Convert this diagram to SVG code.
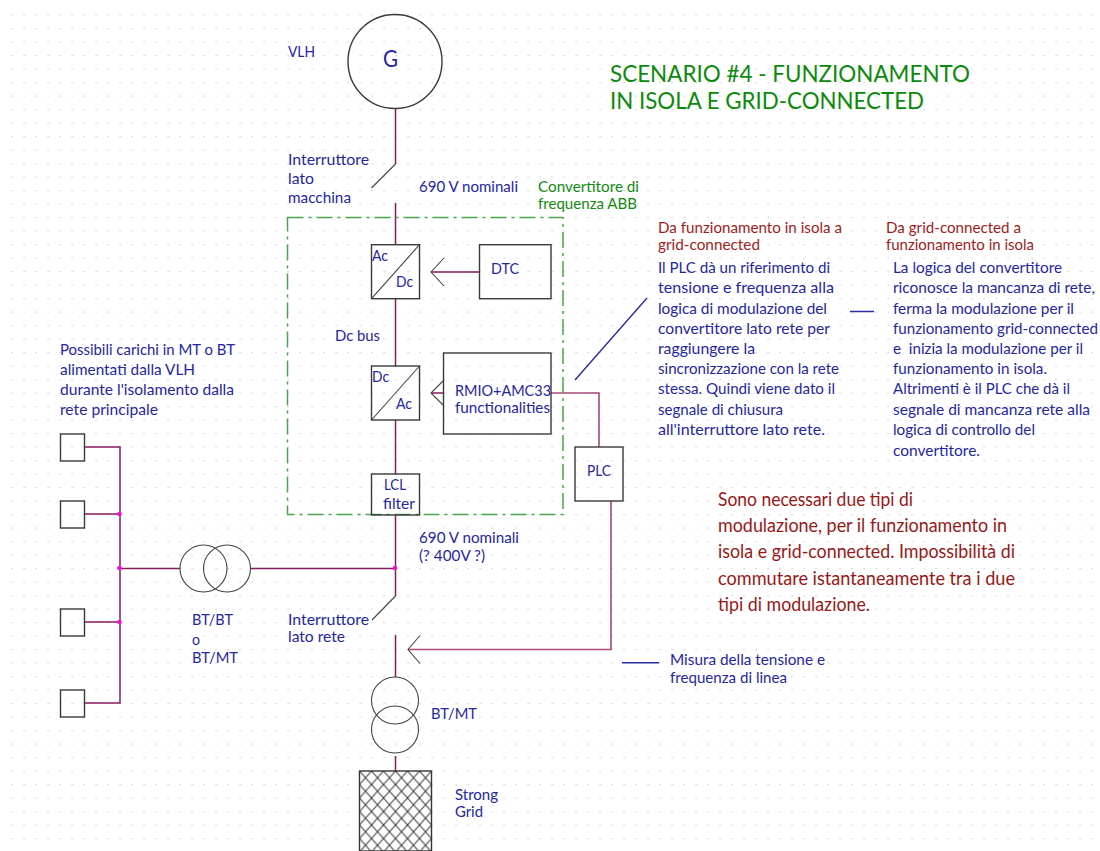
<svg xmlns="http://www.w3.org/2000/svg" width="1100" height="851" viewBox="0 0 1100 851">
<style>
text{font-family:"Lato","Liberation Sans",sans-serif;font-size:15px;fill:#2626a0}
.red{fill:#a01c1c}
.big{font-size:18.5px;fill:#981818}
.grn{fill:#128a12}
.ttl{font-size:23.5px;fill:#0c8a0c}
.g{font-size:23px}
.sh{fill:none;stroke:#3a3a3a;stroke-width:1.4}
.thin{fill:none;stroke:#444;stroke-width:1.1}
.w{fill:none;stroke:#8a1a5e;stroke-width:1.5}
.w2{fill:none;stroke:#a8487e;stroke-width:1.6}
.b{fill:none;stroke:#2c2ca6;stroke-width:1.4}
.j{fill:#f010d8}
</style>
<defs>
<pattern id="dots" patternUnits="userSpaceOnUse" x="11.5" y="14.5" width="12" height="13.5"><rect x="0" y="0" width="1.2" height="1.2" fill="#c4c4c4"/></pattern>
<pattern id="hatch" patternUnits="userSpaceOnUse" x="359.5" y="771" width="12" height="13.5"><path d="M0 0L12 13.5M12 0L0 13.5" stroke="#333" stroke-width="1" fill="none"/></pattern>
</defs>
<rect width="1100" height="851" fill="#fff"/>
<rect x="11" y="14" width="1089" height="837" fill="url(#dots)"/>

<g id="connectors">
<path class="w" d="M395.5 108V164M395.5 203V244.5M395.5 298.5V366M395.5 420V474M395.5 515V596M395.5 635V677M395.5 756V771"/>
<path class="w" d="M431 272H479M431 393H443"/>
<path class="w" d="M84.5 447H120V703H84.5M84.5 514H120M84.5 622H120M120 568.500H180M250.500 568.500H395.500"/>
<path class="w2" d="M551 393H599V447M611 501V649.500H408"/>
<path class="thin" d="M395.500 164L371.500 188M395.500 596L372 620"/>
<path class="thin" d="M444 258L431 272L444 286M443 381L431 393L443 405M420 635.500L408 649.500L420 663.500"/>
<path class="b" d="M575 380L647 298M850 311.500H874M622 662.700H659"/>
<circle class="j" cx="119.500" cy="514" r="2.300"/>
<circle class="j" cx="119.500" cy="568" r="2.300"/>
<circle class="j" cx="119.500" cy="622" r="2.300"/>
<circle class="j" cx="395" cy="568" r="2.300"/>
</g>

<g id="converter-frame"><rect x="287.500" y="217.500" width="275.500" height="297" fill="none" stroke="#4aa64a" stroke-width="1.500" stroke-dasharray="16 5 3 5"/></g>

<g id="generator"><circle class="sh" cx="395" cy="61.500" r="47"/><text class="g" x="383" y="67" textLength="15" lengthAdjust="spacingAndGlyphs">G</text></g>
<g id="vlh-label"><text x="288" y="57" textLength="27" lengthAdjust="spacingAndGlyphs">VLH</text></g>

<g id="rectifier"><rect class="sh" x="371.500" y="244.700" width="48" height="54"/><path class="thin" d="M371.500 298.700L419.500 244.700"/><text x="372" y="261" textLength="16" lengthAdjust="spacingAndGlyphs">Ac</text><text x="396" y="287" textLength="17" lengthAdjust="spacingAndGlyphs">Dc</text></g>
<g id="dtc"><rect class="sh" x="479.500" y="244.700" width="71.500" height="54"/><text x="491" y="274" textLength="28" lengthAdjust="spacingAndGlyphs">DTC</text></g>
<g id="inverter"><rect class="sh" x="371.500" y="366" width="48" height="54"/><path class="thin" d="M371.500 420L419.500 366"/><text x="372" y="382" textLength="17" lengthAdjust="spacingAndGlyphs">Dc</text><text x="396" y="409" textLength="16" lengthAdjust="spacingAndGlyphs">Ac</text></g>
<g id="rmio"><rect class="sh" x="443.500" y="353" width="107.500" height="81"/><text x="455" y="396" textLength="96" lengthAdjust="spacingAndGlyphs">RMIO+AMC33</text><text x="455" y="413" textLength="95" lengthAdjust="spacingAndGlyphs">functionalities</text></g>
<g id="lcl"><rect class="sh" x="371.500" y="474" width="48" height="41"/><text x="384" y="490" textLength="22" lengthAdjust="spacingAndGlyphs">LCL</text><text x="383" y="509" textLength="32" lengthAdjust="spacingAndGlyphs">filter</text></g>
<g id="plc"><rect class="sh" x="575" y="447" width="48" height="54"/><text x="587" y="476" textLength="24" lengthAdjust="spacingAndGlyphs">PLC</text></g>

<g id="load-1"><rect class="sh" x="60.500" y="434" width="24" height="27"/></g>
<g id="load-2"><rect class="sh" x="60.500" y="501" width="24" height="27"/></g>
<g id="load-3"><rect class="sh" x="60.500" y="609" width="24" height="27"/></g>
<g id="load-4"><rect class="sh" x="60.500" y="690" width="24" height="27"/></g>

<g id="transformer-bt"><circle class="thin" cx="203.500" cy="568.500" r="23.500"/><circle class="thin" cx="227" cy="568.500" r="23.500"/></g>
<g id="transformer-mt"><circle class="thin" cx="395" cy="700.500" r="23.500"/><circle class="thin" cx="395" cy="729.500" r="23.500"/></g>
<g id="strong-grid"><rect x="359.500" y="771" width="72" height="80" fill="url(#hatch)" stroke="#333" stroke-width="1.400"/></g>

<g id="labels">
<text x="288" y="165" textLength="81" lengthAdjust="spacingAndGlyphs">Interruttore</text>
<text x="288" y="184" textLength="26" lengthAdjust="spacingAndGlyphs">lato</text>
<text x="288" y="203" textLength="63" lengthAdjust="spacingAndGlyphs">macchina</text>
<text x="419" y="192" textLength="99" lengthAdjust="spacingAndGlyphs">690 V nominali</text>
<text class="grn" x="538" y="192" textLength="101" lengthAdjust="spacingAndGlyphs">Convertitore di</text>
<text class="grn" x="538" y="209" textLength="99" lengthAdjust="spacingAndGlyphs">frequenza ABB</text>
<text x="335" y="341" textLength="45" lengthAdjust="spacingAndGlyphs">Dc bus</text>
<text x="419" y="543" textLength="100" lengthAdjust="spacingAndGlyphs">690 V nominali</text>
<text x="419" y="561" textLength="66" lengthAdjust="spacingAndGlyphs">(? 400V ?)</text>
<text x="288" y="625" textLength="81" lengthAdjust="spacingAndGlyphs">Interruttore</text>
<text x="288" y="642" textLength="57" lengthAdjust="spacingAndGlyphs">lato rete</text>
<text x="192" y="625" textLength="41" lengthAdjust="spacingAndGlyphs">BT/BT</text>
<text x="192" y="645" textLength="8" lengthAdjust="spacingAndGlyphs">o</text>
<text x="192" y="663" textLength="46" lengthAdjust="spacingAndGlyphs">BT/MT</text>
<text x="431" y="719" textLength="46" lengthAdjust="spacingAndGlyphs">BT/MT</text>
<text x="455" y="800" textLength="43" lengthAdjust="spacingAndGlyphs">Strong</text>
<text x="455" y="817" textLength="28" lengthAdjust="spacingAndGlyphs">Grid</text>
<text x="670" y="665" textLength="155" lengthAdjust="spacingAndGlyphs">Misura della tensione e</text>
<text x="670" y="683" textLength="117" lengthAdjust="spacingAndGlyphs">frequenza di linea</text>
<text x="60" y="355" textLength="175" lengthAdjust="spacingAndGlyphs">Possibili carichi in MT o BT</text>
<text x="60" y="375" textLength="135" lengthAdjust="spacingAndGlyphs">alimentati dalla VLH</text>
<text x="60" y="395" textLength="174" lengthAdjust="spacingAndGlyphs">durante l'isolamento dalla</text>
<text x="60" y="415" textLength="98" lengthAdjust="spacingAndGlyphs">rete principale</text>
<text class="ttl" x="610" y="82" textLength="360" lengthAdjust="spacingAndGlyphs">SCENARIO #4 - FUNZIONAMENTO</text>
<text class="ttl" x="610" y="109" textLength="314" lengthAdjust="spacingAndGlyphs">IN ISOLA E GRID-CONNECTED</text>
<text class="red" x="658" y="233" textLength="184" lengthAdjust="spacingAndGlyphs">Da funzionamento in isola a</text>
<text class="red" x="658" y="250" textLength="102" lengthAdjust="spacingAndGlyphs">grid-connected</text>
<text x="658" y="273" textLength="172" lengthAdjust="spacingAndGlyphs">Il PLC dà un riferimento di</text>
<text x="658" y="293" textLength="176" lengthAdjust="spacingAndGlyphs">tensione e frequenza alla</text>
<text x="658" y="314" textLength="169" lengthAdjust="spacingAndGlyphs">logica di modulazione del</text>
<text x="658" y="334" textLength="172" lengthAdjust="spacingAndGlyphs">convertitore lato rete per</text>
<text x="658" y="354" textLength="97" lengthAdjust="spacingAndGlyphs">raggiungere la</text>
<text x="658" y="374" textLength="181" lengthAdjust="spacingAndGlyphs">sincronizzazione con la rete</text>
<text x="658" y="394" textLength="177" lengthAdjust="spacingAndGlyphs">stessa. Quindi viene dato il</text>
<text x="658" y="415" textLength="125" lengthAdjust="spacingAndGlyphs">segnale di chiusura</text>
<text x="658" y="435" textLength="167" lengthAdjust="spacingAndGlyphs">all'interruttore lato rete.</text>
<text class="red" x="886" y="233" textLength="135" lengthAdjust="spacingAndGlyphs">Da grid-connected a</text>
<text class="red" x="886" y="250" textLength="148" lengthAdjust="spacingAndGlyphs">funzionamento in isola</text>
<text x="893" y="273" textLength="169" lengthAdjust="spacingAndGlyphs">La logica del convertitore</text>
<text x="893" y="293" textLength="202" lengthAdjust="spacingAndGlyphs">riconosce la mancanza di rete,</text>
<text x="893" y="314" textLength="181" lengthAdjust="spacingAndGlyphs">ferma la modulazione per il</text>
<text x="893" y="334" textLength="205" lengthAdjust="spacingAndGlyphs">funzionamento grid-connected</text>
<text x="893" y="354" textLength="190" lengthAdjust="spacingAndGlyphs" xml:space="preserve">e  inizia la modulazione per il</text>
<text x="893" y="374" textLength="154" lengthAdjust="spacingAndGlyphs">funzionamento in isola.</text>
<text x="893" y="394" textLength="177" lengthAdjust="spacingAndGlyphs">Altrimenti è il PLC che dà il</text>
<text x="893" y="415" textLength="197" lengthAdjust="spacingAndGlyphs">segnale di mancanza rete alla</text>
<text x="893" y="435" textLength="142" lengthAdjust="spacingAndGlyphs">logica di controllo del</text>
<text x="893" y="456" textLength="87" lengthAdjust="spacingAndGlyphs">convertitore.</text>
<text class="big" x="718" y="506" textLength="195" lengthAdjust="spacingAndGlyphs">Sono necessari due tipi di</text>
<text class="big" x="718" y="532" textLength="289" lengthAdjust="spacingAndGlyphs">modulazione, per il funzionamento in</text>
<text class="big" x="718" y="558" textLength="297" lengthAdjust="spacingAndGlyphs">isola e grid-connected. Impossibilità di</text>
<text class="big" x="718" y="585" textLength="297" lengthAdjust="spacingAndGlyphs">commutare istantaneamente tra i due</text>
<text class="big" x="718" y="611" textLength="152" lengthAdjust="spacingAndGlyphs">tipi di modulazione.</text>
</g>
</svg>
